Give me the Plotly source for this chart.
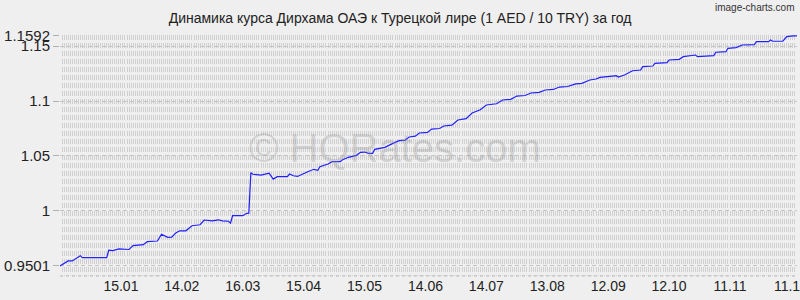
import plotly.graph_objects as go

# ---- data ----
dates = [
    "2024-12-16", "2024-12-20", "2024-12-22", "2024-12-26", "2024-12-27",
    "2025-01-08", "2025-01-09", "2025-01-11", "2025-01-14", "2025-01-19",
    "2025-01-21", "2025-01-26", "2025-01-28", "2025-02-02", "2025-02-04",
    "2025-02-07", "2025-02-09", "2025-02-11", "2025-02-13", "2025-02-16",
    "2025-02-19", "2025-02-23", "2025-02-25", "2025-03-01", "2025-03-04",
    "2025-03-06", "2025-03-09", "2025-03-10", "2025-03-11", "2025-03-16",
    "2025-03-18", "2025-03-19", "2025-03-20", "2025-03-21", "2025-03-25",
    "2025-03-29", "2025-03-31", "2025-04-02", "2025-04-07", "2025-04-08",
    "2025-04-10", "2025-04-12", "2025-04-17", "2025-04-20", "2025-04-22",
    "2025-04-23", "2025-04-27", "2025-04-29", "2025-05-03", "2025-05-04",
    "2025-05-07", "2025-05-11", "2025-05-13", "2025-05-15", "2025-05-17",
    "2025-05-19", "2025-05-20", "2025-05-24", "2025-05-25", "2025-05-29",
    "2025-06-01", "2025-06-04", "2025-06-06", "2025-06-09", "2025-06-11",
    "2025-06-15", "2025-06-17", "2025-06-21", "2025-06-23", "2025-06-27",
    "2025-06-30", "2025-07-04", "2025-07-07", "2025-07-11", "2025-07-14",
    "2025-07-19", "2025-07-22", "2025-07-26", "2025-07-29", "2025-08-02",
    "2025-08-05", "2025-08-09", "2025-08-12", "2025-08-16", "2025-08-19",
    "2025-08-23", "2025-08-27", "2025-08-30", "2025-09-03", "2025-09-06",
    "2025-09-08", "2025-09-14", "2025-09-16", "2025-09-17", "2025-09-20",
    "2025-09-24", "2025-09-28", "2025-09-29", "2025-10-04", "2025-10-05",
    "2025-10-11", "2025-10-12", "2025-10-17", "2025-10-19", "2025-10-25",
    "2025-10-26", "2025-10-31", "2025-11-03", "2025-11-04", "2025-11-09",
    "2025-11-10", "2025-11-14", "2025-11-17", "2025-11-23", "2025-11-24",
    "2025-11-30", "2025-12-01", "2025-12-02", "2025-12-07", "2025-12-09",
    "2025-12-12", "2025-12-14",
]
rates = [
    0.9501, 0.9546, 0.9546, 0.9594, 0.9576,
    0.9576, 0.9643, 0.9640, 0.9655, 0.9650,
    0.9685, 0.9694, 0.9721, 0.9727, 0.9788,
    0.9760, 0.9763, 0.9800, 0.9820, 0.9820,
    0.9866, 0.9875, 0.9918, 0.9910, 0.9920,
    0.9910, 0.9907, 0.9890, 0.9957, 0.9957,
    0.9979, 0.9980, 1.0348, 1.0334, 1.0327,
    1.0343, 1.0290, 1.0312, 1.0312, 1.0336,
    1.0320, 1.0314, 1.0357, 1.0379, 1.0370,
    1.0403, 1.0427, 1.0448, 1.0448, 1.0464,
    1.0488, 1.0506, 1.0533, 1.0536, 1.0524,
    1.0524, 1.0561, 1.0570, 1.0579, 1.0615,
    1.0639, 1.0645, 1.0673, 1.0680, 1.0709,
    1.0715, 1.0745, 1.0750, 1.0773, 1.0780,
    1.0827, 1.0840, 1.0891, 1.0920, 1.0964,
    1.0975, 1.1009, 1.1015, 1.1045, 1.1050,
    1.1073, 1.1078, 1.1100, 1.1105, 1.1127,
    1.1132, 1.1155, 1.1160, 1.1191, 1.1200,
    1.1215, 1.1227, 1.1230, 1.1218, 1.1236,
    1.1275, 1.1282, 1.1312, 1.1318, 1.1342,
    1.1348, 1.1373, 1.1379, 1.1403, 1.1418,
    1.1403, 1.1409, 1.1412, 1.1443, 1.1448,
    1.1479, 1.1485, 1.1509, 1.1512, 1.1539,
    1.1539, 1.1555, 1.1543, 1.1543, 1.1585,
    1.1592, 1.1592,
]

x_tick_dates = ["2025-01-15", "2025-02-14", "2025-03-16", "2025-04-15",
                "2025-05-15", "2025-06-14", "2025-07-14", "2025-08-13",
                "2025-09-12", "2025-10-12", "2025-11-11", "2025-12-11"]
x_tick_labels = ["15.01", "14.02", "16.03", "15.04", "15.05", "14.06",
                 "14.07", "13.08", "12.09", "12.10", "11.11", "11.12"]
y_tick_vals = [0.9501, 1.0, 1.05, 1.1, 1.15, 1.1592]
y_tick_labels = ["0.9501", "1", "1.05", "1.1", "1.15", "1.1592"]

title_text = "Динамика курса Дирхама ОАЭ к Турецкой лире (1 AED / 10 TRY) за год"
watermark = "© HQRates.com"
credit = "image-charts.com"

FONT = "Liberation Sans, Arial, sans-serif"

fig = go.Figure()
fig.add_trace(go.Scatter(
    x=dates, y=rates, mode="lines",
    line=dict(color="#2020ff", width=1.2),
    hoverinfo="skip", showlegend=False,
))

fig.update_layout(
    width=800, height=300,
    margin=dict(l=60, r=3, t=35, b=24, autoexpand=False),
    paper_bgcolor="#efefef",
    plot_bgcolor="#efefef",
    font=dict(family=FONT, color="#222222"),
    title=dict(text=title_text, x=0.5, xanchor="center", xref="container",
               y=1 - 18 / 300, yanchor="middle",
               font=dict(size=14, family=FONT, color="#222222")),
    xaxis=dict(
        type="date",
        automargin=False,
        range=[dates[0], dates[-1]],
        tickvals=x_tick_dates, ticktext=x_tick_labels,
        tickfont=dict(size=14, family=FONT, color="#222222"),
        ticklabeloverflow="allow",
        showgrid=False, zeroline=False, showline=False, ticks="",
        minor=dict(dtick=86400000, tick0="2024-12-16", showgrid=True,
                   gridcolor="#d0d0d0", gridwidth=1, griddash="5px,3px",
                   ticks=""),
    ),
    yaxis=dict(
        automargin=False,
        range=[0.9409, 1.1600],
        tickvals=y_tick_vals, ticktext=y_tick_labels,
        tickfont=dict(size=15, family=FONT, color="#222222"),
        showgrid=True, gridcolor="#c4c4c4", gridwidth=1, griddash="4px,3px",
        zeroline=False, showline=False,
        ticks="outside", ticklen=6, tickcolor="#b0b0b0",
    ),
    annotations=[
        dict(text=watermark, xref="paper", yref="paper",
             x=(395 - 60) / 737, y=(276 - 148) / 241,
             xanchor="center", yanchor="middle", showarrow=False,
             font=dict(size=40, family=FONT, color="rgba(150,150,150,0.33)")),
        dict(text=credit, xref="paper", yref="paper",
             x=(796 - 60) / 737, y=(276 - 8) / 241,
             xanchor="right", yanchor="middle", showarrow=False,
             font=dict(size=10, family="Liberation Sans Narrow, " + FONT,
                       color="#333333")),
    ],
    shapes=[
        dict(type="line", xref="paper", yref="paper", x0=0, x1=1, y0=0, y1=0,
             line=dict(color="#bbbbbb", width=1, dash="dot")),
    ],
)

fig.write_html("out.html")
